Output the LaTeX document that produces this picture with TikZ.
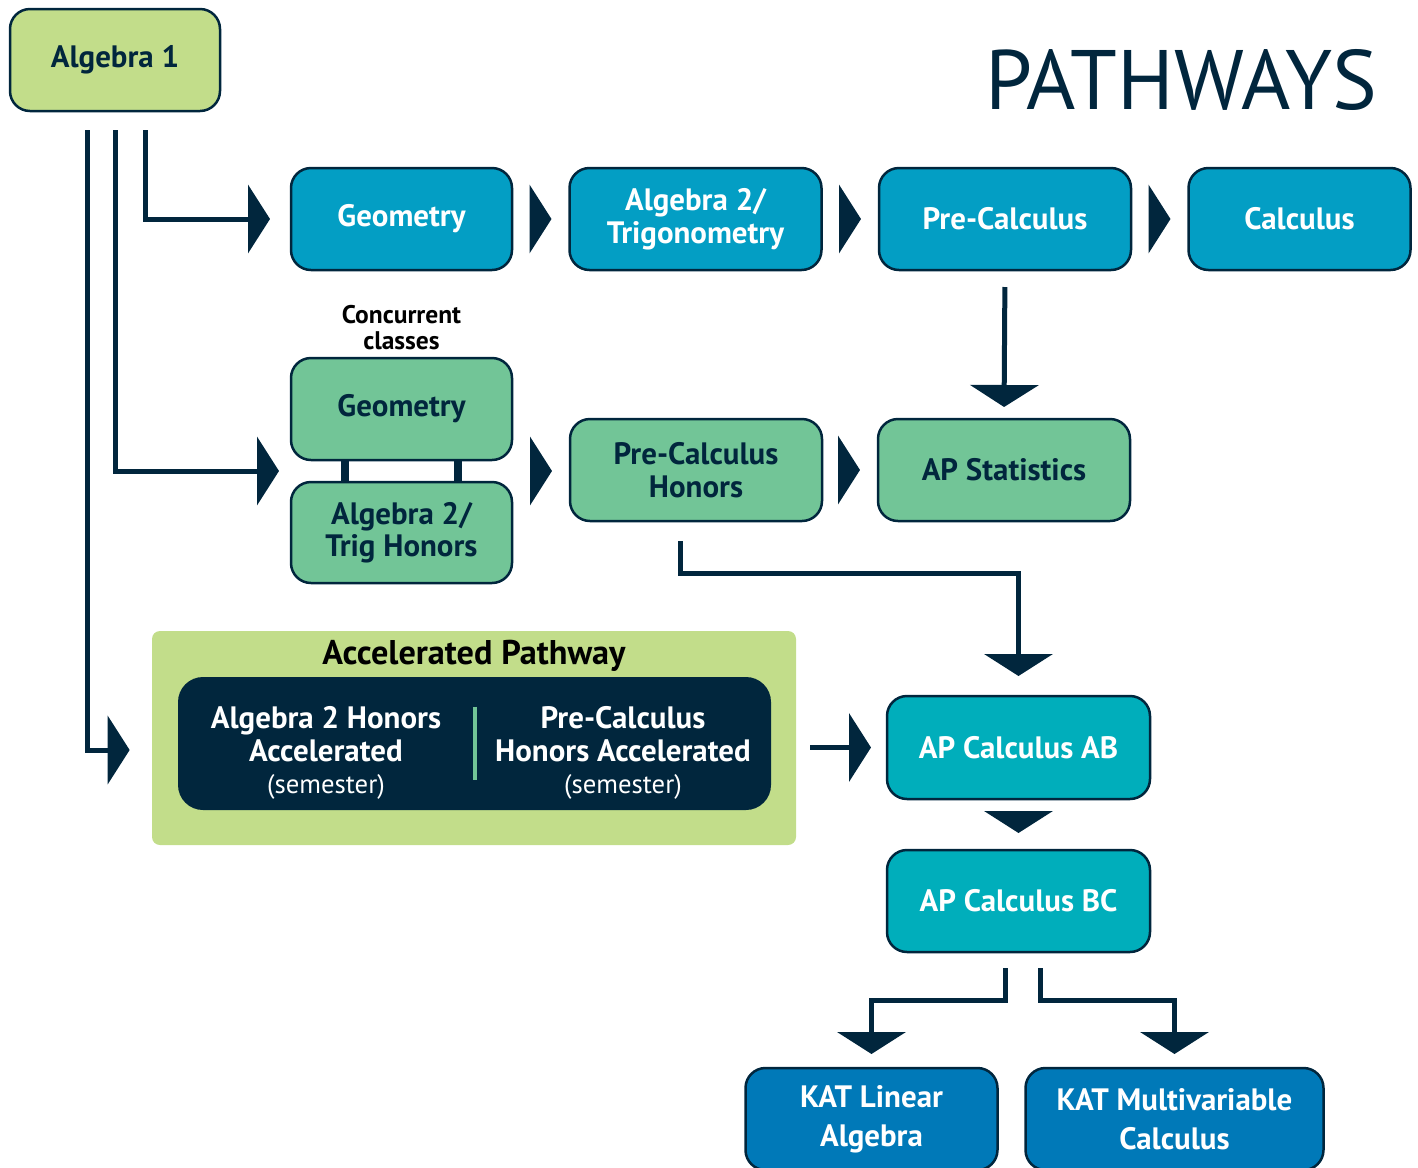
\documentclass[tikz,border=0pt]{standalone}
\usepackage{fontspec}
\setmainfont{PT Sans}
\usepackage{tikz}
\usetikzlibrary{arrows.meta,calc,chains,positioning}

\definecolor{navy}{RGB}{1,38,61}
\definecolor{algGreen}{RGB}{194,221,138}
\definecolor{honorGreen}{RGB}{114,197,151}
\definecolor{stdBlue}{RGB}{3,158,196}
\definecolor{apTeal}{RGB}{0,174,187}
\definecolor{katBlue}{RGB}{0,121,184}

\newcommand{\coursefont}{\bfseries\fontsize{17.6}{18.5}\selectfont}
\newcommand{\semfont}{\mdseries\fontsize{15.2}{16}\selectfont}

\begin{document}
\begin{tikzpicture}
        \useasboundingbox (0,0) rectangle (28.36,-23.34);

        \edef\boxh{2.04cm}
        \tikzstyle{course}=[draw=navy,line width=0.05cm,rounded corners=0.4cm,minimum height=\boxh,inner sep=0pt,outer sep=0pt,align=center,font=\coursefont]
        \tikzstyle{std}=[course,fill=stdBlue,text=white]
        \tikzstyle{honors}=[course,fill=honorGreen,text=navy]
        \tikzstyle{apcalc}=[course,fill=apTeal,text=white,minimum width=5.26cm]
        \tikzstyle{kat}=[course,fill=katBlue,text=white,font=\bfseries\fontsize{17.6}{22}\selectfont]
        \tikzstyle{acctext}=[text=white,align=center,font=\bfseries\fontsize{17.6}{18.5}\selectfont]
        \tikzstyle{link}=[draw=navy,line width=0.1cm,-{Triangle[width=1.36cm,length=0.44cm]}]
        \tikzstyle{tip}=[link,shorten <=0.4cm,shorten >=0.36cm]

        %% Algebra 1 and title
        \node[course,fill=algGreen,text=navy,minimum width=4.2cm] (alg1) at (2.30,-1.20) {Algebra 1};
        \node[text=navy,inner sep=0pt,font=\fontsize{48}{48}\selectfont] (title) at (23.62,-1.60) {PATHWAYS};

        %% Standard pathway
        \begin{scope}[start chain=1 going right,node distance=1.15cm]
            \node[on chain=1,std,minimum width=4.42cm] (geo) at (8.03,-4.38) {Geometry};
            \node[on chain=1,std,minimum width=5.04cm] (a2t) {Algebra 2/\\Trigonometry};
            \node[on chain=1,std,minimum width=5.04cm] (pre) {Pre-Calculus};
            \node[on chain=1,std,minimum width=4.44cm] (calc) {Calculus};
        \end{scope}

        %% Honors pathway
        \node[font=\bfseries\fontsize{14.5}{14.5}\selectfont,align=center] (conc) at (8.03,-6.55) {Concurrent\\classes};
        \node[honors,minimum width=4.42cm,below=1.76cm of geo] (geoH) {Geometry};
        \node[honors,minimum width=4.42cm,minimum height=2.02cm,below=0.44cm of geoH] (a2tH) {Algebra 2/\\Trig Honors};
        \draw[navy,line width=0.16cm] ([xshift=-1.14cm]geoH.south) -- ([xshift=-1.14cm]a2tH.north);
        \draw[navy,line width=0.16cm] ([xshift=1.12cm]geoH.south) -- ([xshift=1.12cm]a2tH.north);

        \begin{scope}[start chain=2 going right,node distance=1.12cm]
            \node[on chain=2,honors,minimum width=5.04cm] (preH) at (13.92,-9.40) {Pre-Calculus\\Honors};
            \node[on chain=2,honors,minimum width=5.04cm] (stat) {AP Statistics};
        \end{scope}

        %% Accelerated pathway
        \node[fill=algGreen,rounded corners=0.16cm,minimum width=12.88cm,minimum height=4.28cm] (accel) at (9.48,-14.76) {};
        \node[font=\bfseries\fontsize{19.5}{20}\selectfont] (acctitle) at (9.48,-13.12) {Accelerated Pathway};
        \node[fill=navy,rounded corners=0.5cm,minimum width=11.86cm,minimum height=2.66cm] (dark) at (9.49,-14.87) {};
        \draw[honorGreen,line width=0.08cm] ([yshift=-0.6cm]dark.north) -- ([yshift=0.6cm]dark.south);
        \node[acctext] (accL) at (6.52,-15.06) {Algebra 2 Honors\\Accelerated\\{\semfont(semester)}};
        \node[acctext] (accR) at (12.46,-15.06) {Pre-Calculus\\Honors Accelerated\\{\semfont(semester)}};

        %% AP and KAT courses
        \node[apcalc,minimum height=2.06cm] (calcAB) at (20.37,-14.95) {AP Calculus AB};
        \node[apcalc,below=1.02cm of calcAB] (calcBC) {AP Calculus BC};
        \node[kat,minimum width=5.04cm] (katLA) at (17.43,-22.38) {KAT Linear\\Algebra};
        \node[kat,minimum width=5.96cm,right=0.56cm of katLA] (katMV) {KAT Multivariable\\Calculus};

        %% Connectors
        \coordinate (grpW) at ($(geoH.south west)!0.5!(a2tH.north west)$);
        \coordinate (grpE) at ($(geoH.south east)!0.5!(a2tH.north east)$);

        \draw[link,shorten <=0.38cm,shorten >=0.42cm] ([xshift=0.6cm]alg1.south) |- (geo.west);
        \draw[link,shorten <=0.38cm,shorten >=0.24cm] (alg1.south) |- (grpW);
        \draw[link,shorten <=0.38cm,shorten >=0.44cm] ([xshift=-0.56cm]alg1.south) |- ([yshift=0.06cm]accel.west |- accL);

        \draw[tip] (geo.east) -- (a2t.west);
        \draw[tip] (a2t.east) -- (pre.west);
        \draw[tip] (pre.east) -- (calc.west);
        \draw[link,shorten <=0.34cm,shorten >=0.24cm] (pre.south) -- (stat.north);

        \draw[tip] (grpE) -- (preH.west |- grpE);
        \draw[tip] (preH.east) -- (stat.west);
        \draw[link,shorten <=0.4cm,shorten >=0.4cm] ([xshift=-0.32cm]preH.south) -- ++(0,-1.04) -| (calcAB.north);

        \draw[link,shorten <=0.28cm,shorten >=0.32cm] (accel.east |- calcAB) -- (calcAB.west);
        \draw[tip,shorten <=0.3cm,shorten >=0.34cm] (calcAB.south) -- (calcBC.north);
        \draw[link,shorten <=0.32cm,shorten >=0.28cm] ([xshift=-0.27cm]calcBC.south) -- ++(0,-0.96) -| (katLA.north);
        \draw[link,shorten <=0.32cm,shorten >=0.28cm] ([xshift=0.43cm]calcBC.south) -- ++(0,-0.96) -| (katMV.north);
\end{tikzpicture}
\end{document}
